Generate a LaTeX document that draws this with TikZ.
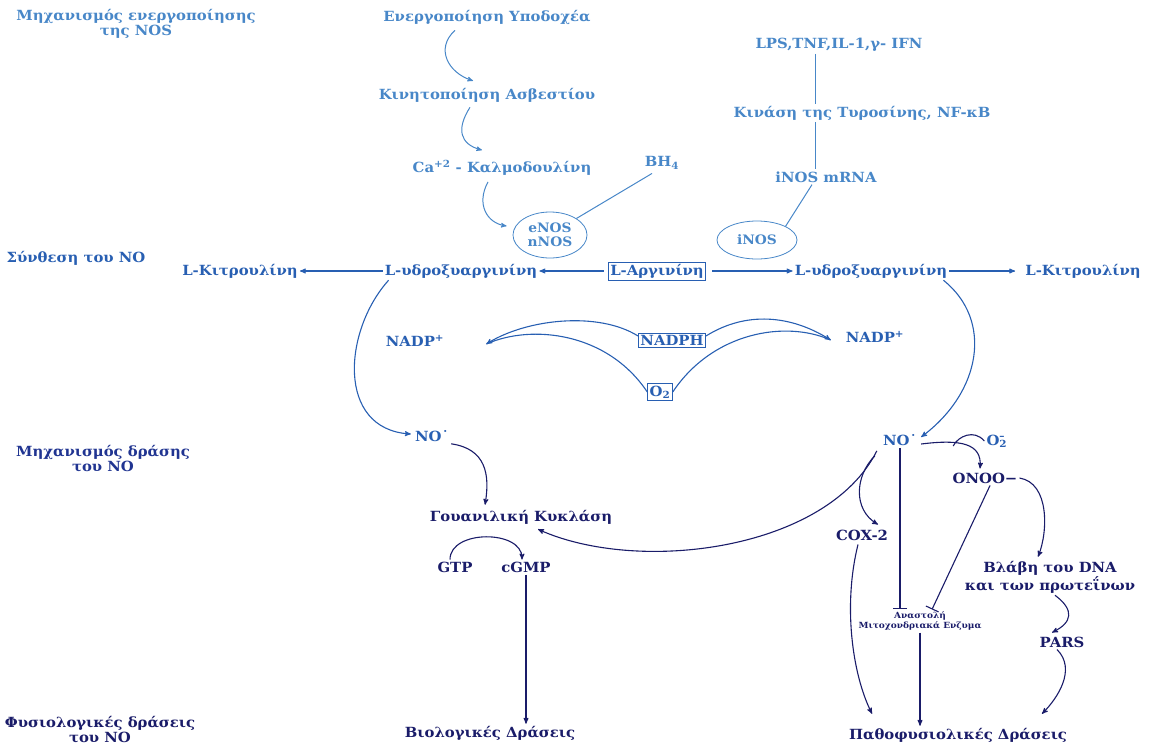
\documentclass[tikz,border=0pt]{standalone}
\usepackage{fontspec}
\setmainfont{DejaVu Serif}[FakeStretch=1.06]
\usepackage{tikz}
\usetikzlibrary{shapes, arrows, arrows.meta, positioning, calc}
\definecolor{topblue}{RGB}{72,135,200}
\definecolor{midblue}{RGB}{40,95,178}
\definecolor{darkblue}{RGB}{32,52,145}
\definecolor{navyblue}{RGB}{26,28,105}
\tikzset{
    heading/.style={
        font=\bfseries\fontsize{14}{15}\selectfont,
        align=center,
        inner sep=1pt,
    },
    toptext/.style={
        text=topblue,
        font=\bfseries\fontsize{14}{15}\selectfont,
        inner sep=2pt,
    },
    midtext/.style={
        text=midblue,
        font=\bfseries\fontsize{14}{15}\selectfont,
        inner sep=2pt,
    },
    lowtext/.style={
        text=navyblue,
        font=\bfseries\fontsize{14}{18}\selectfont,
        inner sep=2pt,
        align=center,
    },
    enzyme/.style={
        ellipse,
        draw=topblue,
        thick,
        text=topblue,
        font=\bfseries\fontsize{13}{14}\selectfont,
        align=center,
        inner sep=0pt,
    },
    boxed/.style={
        draw,
        thick,
        inner sep=2pt,
    },
    toparr/.style={draw=topblue, line width=1pt},
    midarr/.style={draw=midblue, line width=1.1pt},
    lowarr/.style={draw=navyblue, line width=1.1pt},
    stopbar/.style={-{Bar[width=14pt]}},
}
\begin{document}
\begin{tikzpicture}[x=1pt,y=-1pt,>=stealth']
      \useasboundingbox (0,0) rectangle (1153,753);

      \node [heading,text=topblue] (hact) at (136,24) {Μηχανισμός ενεργοποίησης\\της NOS};
      \node [heading,text=midblue] (hsyn) at (76,258) {Σύνθεση του NO};
      \node [heading,text=darkblue] (hmech) at (103,459) {Μηχανισμός δράσης\\του NO};
      \node [heading,text=navyblue] (hphys) at (100,730) {Φυσιολογικές δράσεις\\του NO};

      \node [toptext] (rec) at (487,17) {Ενεργοποίηση Υποδοχέα};
      \node [toptext] (calc) at (487,95) {Κινητοποίηση Ασβεστίου};
      \node [toptext] (cam) at (502,168) {Ca\textsuperscript{+2} - Καλμοδουλίνη};
      \node [toptext] (bh) at (662,163) {BH\textsubscript{4}};
      \node [enzyme,minimum width=74pt,minimum height=46pt] (enos) at (550,235) {eNOS\\nNOS};
      \node [toptext] (lps) at (839,45) {LPS,TNF,IL-1,γ- IFN};
      \node [toptext] (kin) at (862,113) {Κινάση της Τυροσίνης, NF-κB};
      \node [toptext] (mrna) at (826,177) {iNOS mRNA};
      \node [enzyme,minimum width=80pt,minimum height=38pt] (inos) at (757,240) {iNOS};
      \coordinate (axis) at (815,0);

      \node [midtext] (citl) at (240,271) {L-Κιτρουλίνη};
      \node [midtext] (hydl) at (461,271) {L-υδροξυαργινίνη};
      \node [midtext,boxed,draw=midblue] (arg) at (657,271) {L-Αργινίνη};
      \node [midtext] (hydr) at (871,271) {L-υδροξυαργινίνη};
      \node [midtext] (citr) at (1083,271) {L-Κιτρουλίνη};

      \node [midtext] (nadpl) at (415,341) {NADP\textsuperscript{+}};
      \node [midtext,boxed,draw=midblue] (nadph) at (672,340) {NADPH};
      \node [midtext] (nadpr) at (875,337) {NADP\textsuperscript{+}};
      \node [midtext,boxed,draw=midblue] (otwo) at (660,392) {O\textsubscript{2}};
      \coordinate (tipl) at ($(nadpl.east)+(40,3)$);
      \coordinate (tipr) at ($(nadpr.west)+(-13,3)$);

      \node [midtext] (nol) at (432,436) {NO˙};
      \node [lowtext] (guan) at (521,517) {Γουανιλική Κυκλάση};
      \node [lowtext] (gtp) at (455,567) {GTP};
      \node [lowtext] (cgmp) at (526,567) {cGMP};
      \node [lowtext] (bio) at (490,733) {Βιολογικές Δράσεις};

      \node [midtext] (nor) at (900,440) {NO˙};
      \node [midtext] (supox) at (997,441) {O\rlap{\textsubscript{2}}\textsuperscript{–}\,};
      \node [lowtext] (onoo) at (985,478) {ONOO−};
      \node [lowtext] (cox) at (862,535) {COX-2};
      \node [lowtext] (dna) at (1050,577) {Βλάβη του DNA\\και των πρωτεΐνων};
      \node [lowtext] (pars) at (1062,642) {PARS};
      \node [lowtext,font=\bfseries\fontsize{8.5}{10}\selectfont] (inhib) at (920,621) {Αναστολή\\Μιτοχονδριακά Ενζυμα};
      \node [lowtext] (patho) at (958,735) {Παθοφυσιολικές Δράσεις};

      \draw[->,toparr] ($(rec.south)+(-32,4)$) .. controls +(-20,18) and +(-25,-8) .. ($(calc.north)+(-14,-5)$);
      \draw[->,toparr] ($(calc.south)+(-17,3)$) .. controls +(-14,22) and +(-22,-6) .. ($(cam.north)+(-20,-8)$);
      \draw[->,toparr] ($(cam.south)+(-14,4)$) .. controls +(-12,22) and +(-20,-3) .. ($(enos.west)+(-6,-9)$);
      \draw[toparr] ($(bh.south)+(-10,2)$) -- (enos.north east);
      \draw[toparr] (lps.south -| axis) -- (kin.north -| axis);
      \draw[toparr] (kin.south -| axis) -- (mrna.north -| axis);
      \draw[toparr] ($(mrna.south)+(-14,0)$) -- (inos.north east);

      \draw[->,midarr] (hydl.west) -- (citl.east);
      \draw[->,midarr] ($(arg.west)+(-4,0)$) -- (hydl.east);
      \draw[->,midarr] ($(arg.east)+(6,0)$) -- (hydr.west);
      \draw[->,midarr] (hydr.east) -- ($(citr.west)+(-8,0)$);

      \draw[->,midarr] ($(hydl.south west)+(6,0)$) .. controls +(-45,50) and +(-75,-5) .. ($(nol.west)+(-2,-2)$);
      \draw[->,midarr] ($(hydr.south east)+(-6,0)$) .. controls +(50,40) and +(60,-45) .. ($(nor.east)+(2,-3)$);

      \draw[->,midarr] ($(nadph.west)+(0,-4)$) .. controls +(-40,-25) and +(40,-25) .. (tipl);
      \draw[midarr] (otwo.west) .. controls +(-40,-60) and +(45,-20) .. (tipl);
      \draw[->,midarr] ($(nadph.east)+(0,-4)$) .. controls +(40,-25) and +(-40,-25) .. (tipr);
      \draw[midarr] (otwo.east) .. controls +(40,-60) and +(-45,-20) .. (tipr);

      \draw[->,lowarr] (nol.south east) .. controls +(35,5) and +(5,-30) .. ($(guan.north)+(-36,-3)$);
      \draw[->,lowarr] ($(nor.south west)+(-4,3)$) .. controls +(-50,100) and +(100,45) .. ($(guan.south)+(17,3)$);
      \draw[->,lowarr] ($(gtp.north)+(-5,0)$) .. controls +(0,-30) and +(0,-30) .. ($(cgmp.north)+(-4,0)$);
      \draw[->,lowarr] (cgmp.south) -- (cgmp.south |- bio.north);

      \draw[->,lowarr] ($(nor.east)+(2,4)$) .. controls +(40,-5) and +(2,-25) .. ($(onoo.north)+(-5,-2)$);
      \draw[lowarr] (supox.west) .. controls +(-10,-12) and +(5,-10) .. ($(nor.east)+(34,6)$);
      \draw[->,lowarr] (onoo.east) .. controls +(30,5) and +(10,-25) .. ($(dna.north)+(-12,-2)$);
      \draw[->,lowarr] ($(dna.south)+(5,0)$) .. controls +(20,15) and +(20,-10) .. ($(pars.north)+(-10,-2)$);
      \draw[->,lowarr] ($(pars.south)+(-5,0)$) .. controls +(20,20) and +(15,-15) .. ($(patho.north)+(84,-12)$);
      \draw[->,lowarr] ($(nor.south west)+(-6,8)$) .. controls +(-20,20) and +(-25,-15) .. ($(cox.north)+(16,-3)$);
      \draw[->,lowarr] ($(cox.south)+(-4,2)$) .. controls +(-15,60) and +(-20,-40) .. ($(patho.north)+(-86,-12)$);
      \draw[stopbar,lowarr] (nor.south) -- (nor.south |- inhib.north);
      \draw[stopbar,lowarr] ($(onoo.south)+(5,0)$) -- ($(inhib.north)+(12,0)$);
      \draw[->,lowarr] (inhib.south) -- (inhib.south |- patho.north);
    \end{tikzpicture}
\end{document}
